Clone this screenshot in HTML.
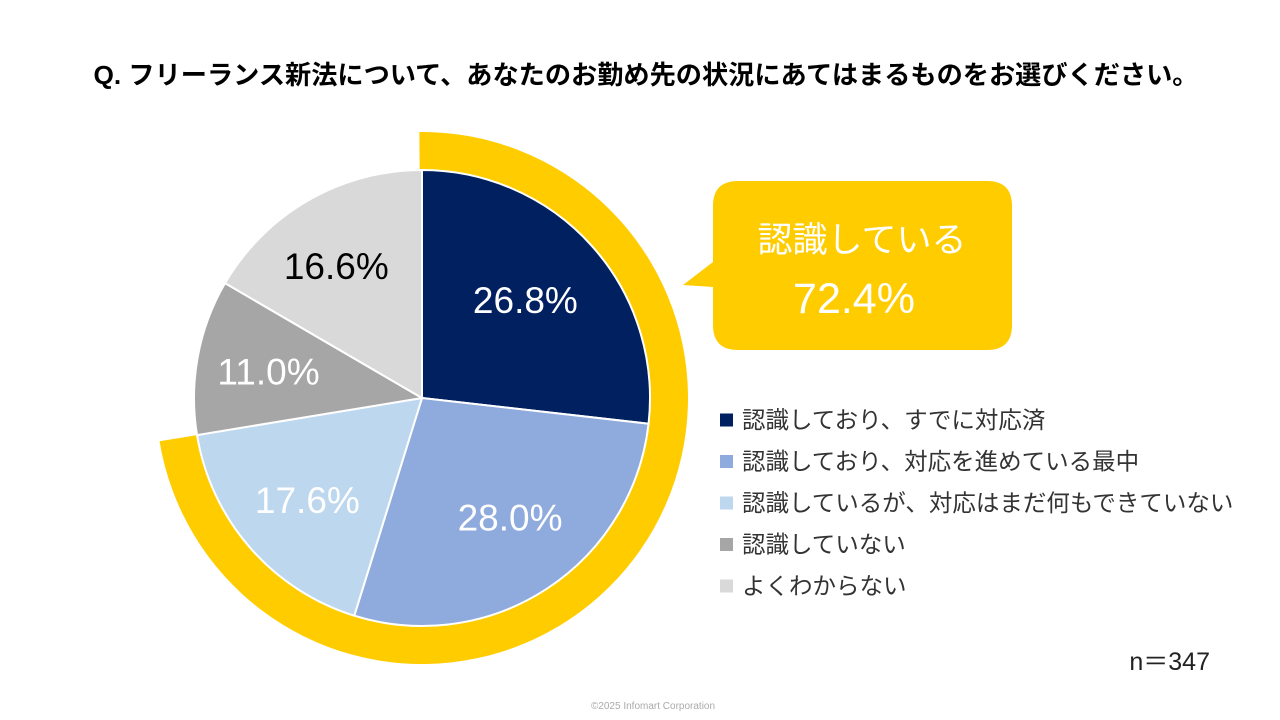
<!DOCTYPE html>
<html><head><meta charset="utf-8">
<style>
body{margin:0;width:1280px;height:720px;background:#fff;overflow:hidden;font-family:"Liberation Sans","Noto Sans CJK JP",sans-serif;}
svg{display:block}
</style></head>
<body>
<svg width="1280" height="720" viewBox="0 0 1280 720">
<text x="646" y="84" text-anchor="middle" font-size="26" font-weight="bold" fill="#000" textLength="1105" lengthAdjust="spacingAndGlyphs" font-family="Liberation Sans, Noto Sans CJK JP, sans-serif">Q. フリーランス新法について、あなたのお勤め先の状況にあてはまるものをお選びください。</text>
<g id="ring"></g>
<g id="pie"></g>
<g id="labels"></g>
<g>
<path d="M738,181 H987 Q1012,181 1012,206 V325 Q1012,350 987,350 H738 Q713,350 713,325 V287 L683,285 L713,262 V206 Q713,181 738,181 Z" fill="#FFCC00"/>
<text x="862" y="252" text-anchor="middle" font-size="35" fill="#fff" font-family="Liberation Sans, Noto Sans CJK JP, sans-serif">認識している</text>
<text x="854" y="313" text-anchor="middle" font-size="43" fill="#fff" font-family="Liberation Sans, Noto Sans CJK JP, sans-serif">72.4%</text>
</g>
<g id="legend"></g>
<text x="1210" y="670" text-anchor="end" font-size="25" fill="#222" font-family="Liberation Sans, Noto Sans CJK JP, sans-serif">n＝347</text>
<text x="653" y="709" text-anchor="middle" font-size="10" fill="#aaa">©2025 Infomart Corporation</text>
</svg>
<script>
const categories=["認識しており、すでに対応済","認識しており、対応を進めている最中","認識しているが、対応はまだ何もできていない","認識していない","よくわからない"];
const values=[26.8,28.0,17.6,11.0,16.6];
const labels=["26.8%","28.0%","17.6%","11.0%","16.6%"];
const ringTotal=72.4;
const colors=["#002060","#8FAADC","#BDD7EE","#A6A6A6","#D9D9D9"];
const labelColors=["#fff","#fff","#fff","#fff","#000"];
const nudgeX=[-10,5,0,-4,-10];
const nudgeY=[3,-8,2,1,0];
const NS="http://www.w3.org/2000/svg";
const cx=422,cy=398,R=228,RO=266;
function pt(a,r){return [cx+r*Math.sin(a),cy-r*Math.cos(a)];}
function ang(v){return v/100*2*Math.PI;}
const pie=document.getElementById('pie'),lab=document.getElementById('labels');
let acc=0;
values.forEach((v,i)=>{
  const a0=ang(acc),a1=ang(acc+v);acc+=v;
  const p0=pt(a0,R),p1=pt(a1,R);
  const p=document.createElementNS(NS,'path');
  p.setAttribute('d',`M${cx},${cy} L${p0[0]},${p0[1]} A${R},${R} 0 ${a1-a0>Math.PI?1:0} 1 ${p1[0]},${p1[1]} Z`);
  p.setAttribute('fill',colors[i]);p.setAttribute('stroke','#fff');p.setAttribute('stroke-width','2');
  
  
  pie.appendChild(p);
  const m=(a0+a1)/2,lp=pt(m,152);
  const t=document.createElementNS(NS,'text');
  t.setAttribute('x',lp[0]+nudgeX[i]);t.setAttribute('y',lp[1]+13+nudgeY[i]);t.setAttribute('text-anchor','middle');
  t.setAttribute('font-size','37');t.setAttribute('fill',labelColors[i]);
  t.textContent=labels[i];
  
  
  lab.appendChild(t);
});
const a1=ang(ringTotal);
const o0=pt(-0.01,RO),o1=pt(a1,RO),i0=pt(-0.01,R),i1=pt(a1,R);
const ring=document.createElementNS(NS,'path');
ring.setAttribute('d',`M${o0[0]},${o0[1]} A${RO},${RO} 0 1 1 ${o1[0]},${o1[1]} L${i1[0]},${i1[1]} A${R},${R} 0 1 0 ${i0[0]},${i0[1]} Z`);
ring.setAttribute('fill','#FFCC00');


document.getElementById('ring').appendChild(ring);
const lg=document.getElementById('legend');
categories.forEach((c,i)=>{
  const y=420+i*41.5;
  const r=document.createElementNS(NS,'rect');
  r.setAttribute('x',720);r.setAttribute('y',y-6.5);r.setAttribute('width',13);r.setAttribute('height',13);r.setAttribute('fill',colors[i]);
  
  
  lg.appendChild(r);
  const t=document.createElementNS(NS,'text');
  t.setAttribute('x',742);t.setAttribute('y',y+8);t.setAttribute('font-size','23.5');t.setAttribute('fill','#333');
  t.textContent=c;
  
  
  lg.appendChild(t);
});
</script>
</body></html>
